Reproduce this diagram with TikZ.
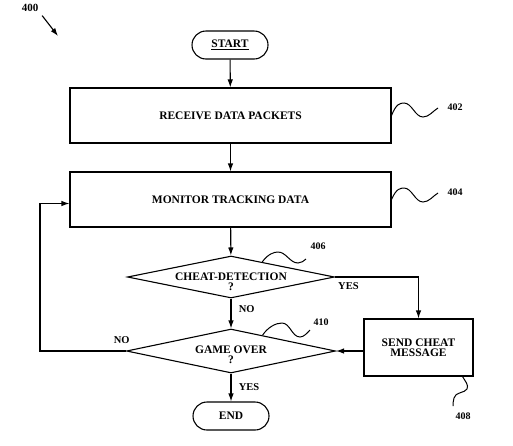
\documentclass[tikz,border=0pt]{standalone}
\usepackage{fontspec}
\setmainfont{Liberation Serif}
\usetikzlibrary{shapes.geometric,calc,arrows.meta}

\begin{document}
\begin{tikzpicture}[x=1pt,y=-1pt,line width=1.1pt,>={Latex[length=8pt,width=5.5pt]},
    every node/.style={font=\bfseries\fontsize{11.5}{10}\selectfont},
    box/.style={draw,rectangle,minimum width=321pt,minimum height=55pt},
    pill/.style={draw,rectangle,rounded corners=14pt,minimum width=76pt,minimum height=28pt},
    dia/.style={draw,diamond,inner sep=0pt},
    ref/.style={font=\bfseries\fontsize{10}{10}\selectfont},
    lbl/.style={font=\bfseries\fontsize{10.5}{10}\selectfont}]
      \useasboundingbox (0,0) rectangle (513,445);
      \node[ref,font=\bfseries\fontsize{11}{10}\selectfont] (l400) at (30,8) {400};
      \coordinate (p400) at (58,36);
      \draw[->] (l400.south east) -- (p400);
      \node[pill] (start) at (230,45) {\underline{START}};
      \node[box] (recv) at (230.5,115.5) {RECEIVE DATA PACKETS};
      \node[box] (mon) at (230.5,199.5) {MONITOR TRACKING DATA};
      \node[dia,minimum width=207pt,minimum height=42pt,
            label={[align=center,yshift=-5pt]center:{CHEAT-DETECTION\\?}}] (cheat) at (231,277) {};
      \node[dia,minimum width=209pt,minimum height=44pt,
            label={[align=center,yshift=-4pt]center:{GAME OVER\\?}}] (over) at (231,351) {};
      \node[draw,minimum width=109pt,minimum height=57pt,align=center] (send) at (418.5,347.5) {SEND CHEAT\\MESSAGE};
      \node[pill] (end) at (231,416) {END};
      % reference numerals
      \node[ref] (l402) at (455,107) {402};
      \node[ref] (l404) at (455,192) {404};
      \node[ref] (l406) at (318,246) {406};
      \node[ref] (l410) at (321,322) {410};
      \node[ref] (l408) at (463,416) {408};
      % flow
      \draw[->] (start) -- (recv);
      \draw[->] (recv) -- (mon);
      \draw[->] (mon) -- (cheat);
      \draw[->] (cheat) -- node[lbl,pos=0.35,right=4pt] {NO} (over);
      \draw[->] (cheat.east) -| node[lbl,pos=0.08,below=2pt] {YES} (send.north);
      \draw[->] (send.west |- over.east) -- (over.east);
      \draw[->] (over) -- node[lbl,pos=0.48,right=4pt] {YES} (end);
      \coordinate (back) at (40,351);
      \draw[->] (over.west) -- node[lbl,pos=0.05,above=4pt] {NO} (back) |- ([yshift=-4pt]mon.west);
      % leader lines
      \draw[line width=1pt] (recv.east) .. controls (396,104) and (400,103) .. (404,103)
            .. controls (412,103) and (415,117) .. (423,117) .. controls (429,117) and (433,111) .. (438,108);
      \draw[line width=1pt] (mon.east) .. controls (396,189) and (400,188) .. (404,188)
            .. controls (412,188) and (415,202) .. (423,202) .. controls (429,202) and (433,196) .. (438,193);
      \draw[line width=1pt] ($(cheat.north)!0.3!(cheat.east)$) .. controls (268,254) and (274,252) .. (278,252)
            .. controls (286,252) and (290,263) .. (298,263) .. controls (301,263) and (304,261) .. (306,259);
      \draw[line width=1pt] ($(over.north)!0.3!(over.east)$) .. controls (268,327) and (276,323) .. (282,323)
            .. controls (290,323) and (292,337) .. (300,337) .. controls (304,337) and (307,333) .. (310,330);
      \draw[line width=1pt] ($(send.south)!0.8!(send.south east)$) .. controls (465,381) and (469,385) .. (467,389)
            .. controls (465,393) and (455,392) .. (454,398) .. controls (453,401) and (453,404) .. (453,406);
    \end{tikzpicture}
\end{document}
